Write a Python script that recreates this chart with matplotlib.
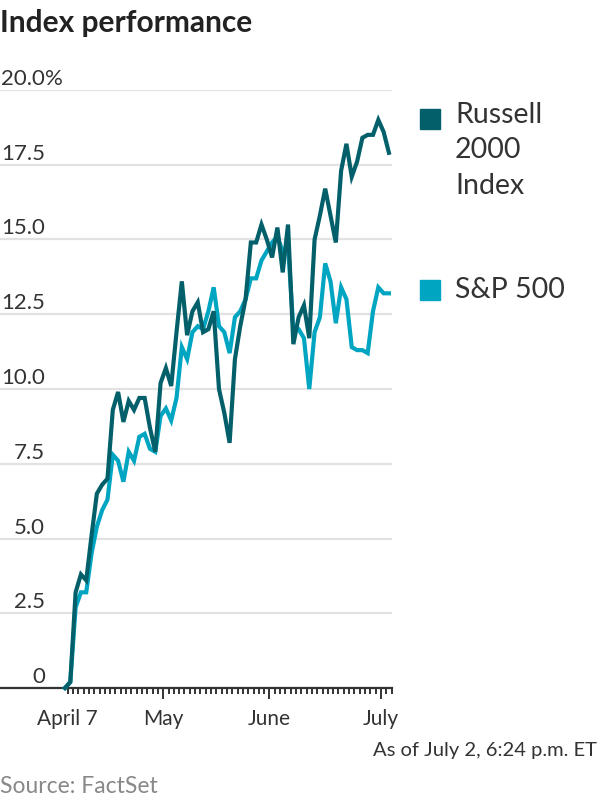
import numpy as np
import matplotlib
matplotlib.use('Agg')
import matplotlib.pyplot as plt
import matplotlib.transforms as mtransforms
from matplotlib.patches import Rectangle

plt.rcParams['font.family'] = ['Lato', 'DejaVu Sans']

# % change, one value per trading session
russell = [0.0, 0.2, 3.2, 3.8, 3.6, 5.1, 6.5, 6.8, 7.0, 9.3,
           9.9, 8.9, 9.6, 9.3, 9.7, 9.7, 8.7, 7.9, 10.2, 10.7,
           10.1, 11.9, 13.6, 11.8, 12.6, 12.9, 11.9, 12.0, 12.6, 10.0,
           9.2, 8.2, 11.0, 12.1, 13.0, 14.9, 14.9, 15.5, 15.0, 14.4,
           15.4, 13.9, 15.5, 11.5, 12.4, 12.8, 11.7, 15.0, 15.8, 16.7,
           15.8, 14.9, 17.3, 18.2, 17.1, 17.6, 18.4, 18.5, 18.5, 19.0,
           18.6, 17.9]
sp500 = [0.0, 0.2, 2.7, 3.2, 3.2, 4.5, 5.4, 5.95, 6.3, 7.8,
         7.6, 6.9, 7.9, 7.6, 8.4, 8.5, 8.0, 7.9, 9.1, 9.35,
         8.95, 9.7, 11.4, 11.0, 11.9, 12.1, 12.0, 12.6, 13.4, 12.1,
         11.9, 11.2, 12.4, 12.6, 13.0, 13.7, 13.7, 14.3, 14.6, 14.9,
         15.1, 14.6, 14.8, 12.0, 12.0, 11.7, 10.0, 11.9, 12.4, 14.2,
         13.6, 12.2, 13.4, 13.0, 11.4, 11.3, 11.3, 11.2, 12.6, 13.4,
         13.2, 13.2]

month_labels = ['April 7', 'May', 'June', 'July']
month_pos = [0.5, 18.5, 38.5, 59.5]

y_ticks = [0, 2.5, 5, 7.5, 10, 12.5, 15, 17.5, 20]
y_labels = ['0', '2.5', '5.0', '7.5', '10.0', '12.5', '15.0', '17.5', '20.0']

dark = '#03606b'
light = '#00a5c2'
ink = '#333333'

fig = plt.figure(figsize=(6, 8), dpi=100)
ax = fig.add_axes([0, 112 / 800, 392 / 600, 598 / 800])

x = np.arange(len(russell))
ax.plot(x, sp500, color=light, lw=3, solid_joinstyle='miter', clip_on=False, zorder=3)
ax.plot(x, russell, color=dark, lw=3, solid_joinstyle='miter', clip_on=False, zorder=4)

ax.set_xlim(-12.24, 61.58)
ax.set_ylim(0, 20)

# gridlines, labels sit on top of them at the left
ax.set_yticks(y_ticks)
ax.yaxis.grid(True, color='#e2e2e2', lw=1.6)
ax.tick_params(axis='y', length=0, labelleft=False)
ax.set_axisbelow(True)
lab_tr = mtransforms.offset_copy(
    mtransforms.blended_transform_factory(ax.transAxes, ax.transData),
    fig=fig, y=1, units='dots')
for v, s in zip(y_ticks, y_labels):
    ax.text(45 / 392, v, s, transform=lab_tr, ha='right', va='bottom',
            fontsize=16, color=ink)
ax.text(45 / 392, y_ticks[-1], '%', transform=lab_tr, ha='left', va='bottom',
        fontsize=16, color=ink)

for sp in ['top', 'right', 'left']:
    ax.spines[sp].set_visible(False)
ax.spines['bottom'].set_color(ink)
ax.spines['bottom'].set_linewidth(1.6)

ax.set_xticks(np.arange(0.5, len(russell), 1), minor=True)
ax.set_xticks(month_pos)
ax.set_xticklabels(month_labels, fontsize=15, color=ink)
ax.tick_params(axis='x', which='minor', length=4, width=1.4, color=ink)
ax.tick_params(axis='x', which='major', length=8, width=1.4, color=ink, pad=7)
ax.xaxis.get_major_ticks()[0].tick1line.set_markersize(4)

fig.text(0, 1 - 9 / 800, 'Index performance', fontsize=21.5, weight='bold',
         color='#222222', va='top')

# legend
fig.add_artist(Rectangle((420 / 600, 1 - 129 / 800), 20 / 600, 20 / 800,
                         transform=fig.transFigure, color=dark))
fig.text(455 / 600, 1 - 102 / 800, 'Russell\n2000\nIndex', fontsize=20.5,
         color=ink, va='top', linespacing=1.45)
fig.add_artist(Rectangle((420 / 600, 1 - 300 / 800), 20 / 600, 20 / 800,
                         transform=fig.transFigure, color=light))
fig.text(455 / 600, 1 - 298 / 800, 'S&P 500', fontsize=20.5, color=ink,
         va='baseline')

fig.text(597 / 600, 1 - 756 / 800, 'As of July 2, 6:24 p.m. ET', fontsize=14.5,
         color=ink, ha='right', va='baseline')
fig.text(0, 1 - 793 / 800, 'Source: FactSet', fontsize=16.5, color='#888888',
         va='baseline')

fig.savefig('out.png', dpi=100)
